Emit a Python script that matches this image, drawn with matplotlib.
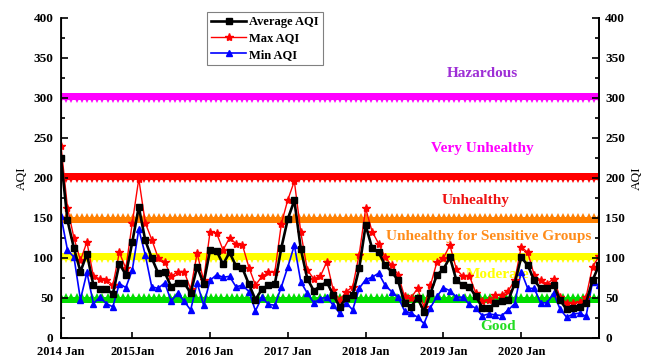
import numpy as np
import matplotlib
matplotlib.use("Agg")
import matplotlib.pyplot as plt
from matplotlib.ticker import MultipleLocator
from matplotlib.transforms import ScaledTranslation

plt.rcParams['font.family'] = ['Liberation Serif', 'DejaVu Serif']
plt.rcParams['font.weight'] = 'bold'

# monthly AQI, 84 months starting 2014 Jan
avg_aqi = [225, 147, 112, 83, 105, 66, 61, 61, 55, 93, 79, 120, 164, 122, 100, 81, 82, 64, 69, 69, 56,
           89, 68, 110, 109, 92, 107, 90, 87, 67, 48, 61, 66, 68, 113, 149, 172, 111, 74, 59, 65, 70,
           54, 39, 50, 54, 87, 141, 112, 107, 91, 83, 72, 44, 39, 50, 33, 56, 79, 86, 101, 72, 66,
           64, 52, 38, 37, 44, 46, 47, 68, 101, 91, 72, 62, 62, 66, 47, 36, 38, 39, 44, 72, 91]
max_aqi = [240, 163, 125, 97, 120, 77, 74, 73, 66, 107, 87, 144, 199, 144, 123, 100, 95, 77, 83, 83, 61,
           106, 72, 133, 131, 110, 125, 118, 116, 88, 66, 77, 82, 83, 143, 173, 196, 132, 85, 74, 77, 95,
           60, 47, 58, 64, 104, 162, 133, 118, 101, 91, 79, 52, 50, 62, 39, 66, 95, 100, 116, 86, 77,
           78, 56, 46, 47, 54, 54, 59, 72, 114, 107, 79, 72, 68, 74, 51, 44, 44, 45, 51, 89, 102]
min_aqi = [152, 110, 101, 48, 82, 43, 51, 43, 39, 68, 63, 85, 136, 104, 64, 62, 69, 46, 56, 46, 35,
           69, 41, 72, 79, 76, 77, 64, 66, 58, 34, 51, 42, 41, 64, 89, 116, 70, 56, 44, 49, 51,
           41, 31, 44, 35, 62, 73, 76, 81, 66, 58, 51, 34, 31, 26, 18, 38, 52, 63, 59, 51, 51,
           42, 37, 28, 30, 29, 28, 35, 43, 83, 62, 62, 44, 44, 56, 36, 26, 30, 31, 27, 70, 66]

year_ticks = [0, 11, 23, 35, 47, 59, 71]
year_labels = ["2014 Jan", "2015Jan", "2016 Jan", "2017 Jan", "2018 Jan", "2019 Jan", "2020 Jan"]

# AQI category limits and their labels
limits = [300, 200, 150, 100, 50]
limit_colors = ['#ff00ff', '#ff0000', '#ff7f00', '#ffff00', '#00dd00']
limit_markers = ['v', 'v', '^', 'v', '^']
categories = ["Hazardous", "Very Unhealthy", "Unhealthy", "Unhealthy for Sensitive Groups", "Moderate", "Good"]
category_colors = ['#9e2fd6', '#ff00ff', '#ee1111', '#ff8c1a', '#ffff00', '#22dd22']
category_pos = [(65.0, 331), (65.0, 237), (64.0, 172), (66.0, 127), (67.4, 80), (67.4, 14)]

months = np.arange(len(avg_aqi))

fig = plt.figure(figsize=(6.53, 3.62), dpi=100)
ax = fig.add_axes([61 / 653, 1 - 338 / 362, 538 / 653, 320 / 362])

# limit lines: thick band with a row of triangle teeth
xb = np.linspace(0, months[-1], 105)
for lvl, c, m in zip(limits, limit_colors, limit_markers):
    ax.plot(xb, np.full_like(xb, lvl, dtype=float), color=c, lw=2.2, marker=m, ms=6.5, mew=0, zorder=1)

for txt, c, (x, y) in zip(categories, category_colors, category_pos):
    ax.text(x, y, txt, color=c, fontsize=11, fontweight='bold', ha='center', va='center', zorder=2)

ax.plot(months, avg_aqi, color='black', lw=1.9, marker='s', ms=4.4, label="Average AQI", zorder=5)
ax.plot(months, max_aqi, color='red', lw=1.0, marker='*', ms=6, label="Max AQI", zorder=4)
ax.plot(months, min_aqi, color='blue', lw=1.2, marker='^', ms=4.8, label="Min AQI", zorder=3)

ax.set_xlim(0, months[-1])
ax.set_ylim(0, 400)
ax.set_xticks(year_ticks, year_labels)
for lab in ax.get_xticklabels():
    lab.set_transform(lab.get_transform() + ScaledTranslation(0.08, 0, fig.dpi_scale_trans))
ax.yaxis.set_major_locator(MultipleLocator(50))
ax.yaxis.set_minor_locator(MultipleLocator(25))
ax.tick_params(axis='both', which='both', direction='in', labelsize=9.5, width=1.2)
ax.tick_params(axis='y', which='major', length=5, pad=5.5)
ax.tick_params(axis='y', which='minor', length=3)
ax.tick_params(axis='x', which='major', length=4, pad=6, labelsize=9)
ax.spines['top'].set_visible(False)
for s in ['left', 'right', 'bottom']:
    ax.spines[s].set_linewidth(1.3)
ax.set_ylabel("AQI", fontsize=9.5, labelpad=4)

ax2 = ax.twinx()
ax2.set_ylim(0, 400)
ax2.yaxis.set_major_locator(MultipleLocator(50))
ax2.yaxis.set_minor_locator(MultipleLocator(25))
ax2.tick_params(axis='y', which='both', direction='in', labelsize=9.5, width=1.2)
ax2.tick_params(axis='y', which='major', length=5, pad=4.5)
ax2.tick_params(axis='y', which='minor', length=3)
ax2.spines['top'].set_visible(False)
ax2.spines['right'].set_linewidth(1.3)
ax2.set_ylabel("AQI", fontsize=9.5, labelpad=4, rotation=90)

leg = ax.legend(loc='upper left', bbox_to_anchor=(0.271, 1.02), prop=dict(size=9, weight='bold'),
                fancybox=False, edgecolor='gray', framealpha=1, handlelength=2.8, handletextpad=0.2,
                labelspacing=0.35, borderpad=0.35, borderaxespad=0)
leg.get_frame().set_linewidth(0.8)

fig.savefig("out.png", dpi=100)
